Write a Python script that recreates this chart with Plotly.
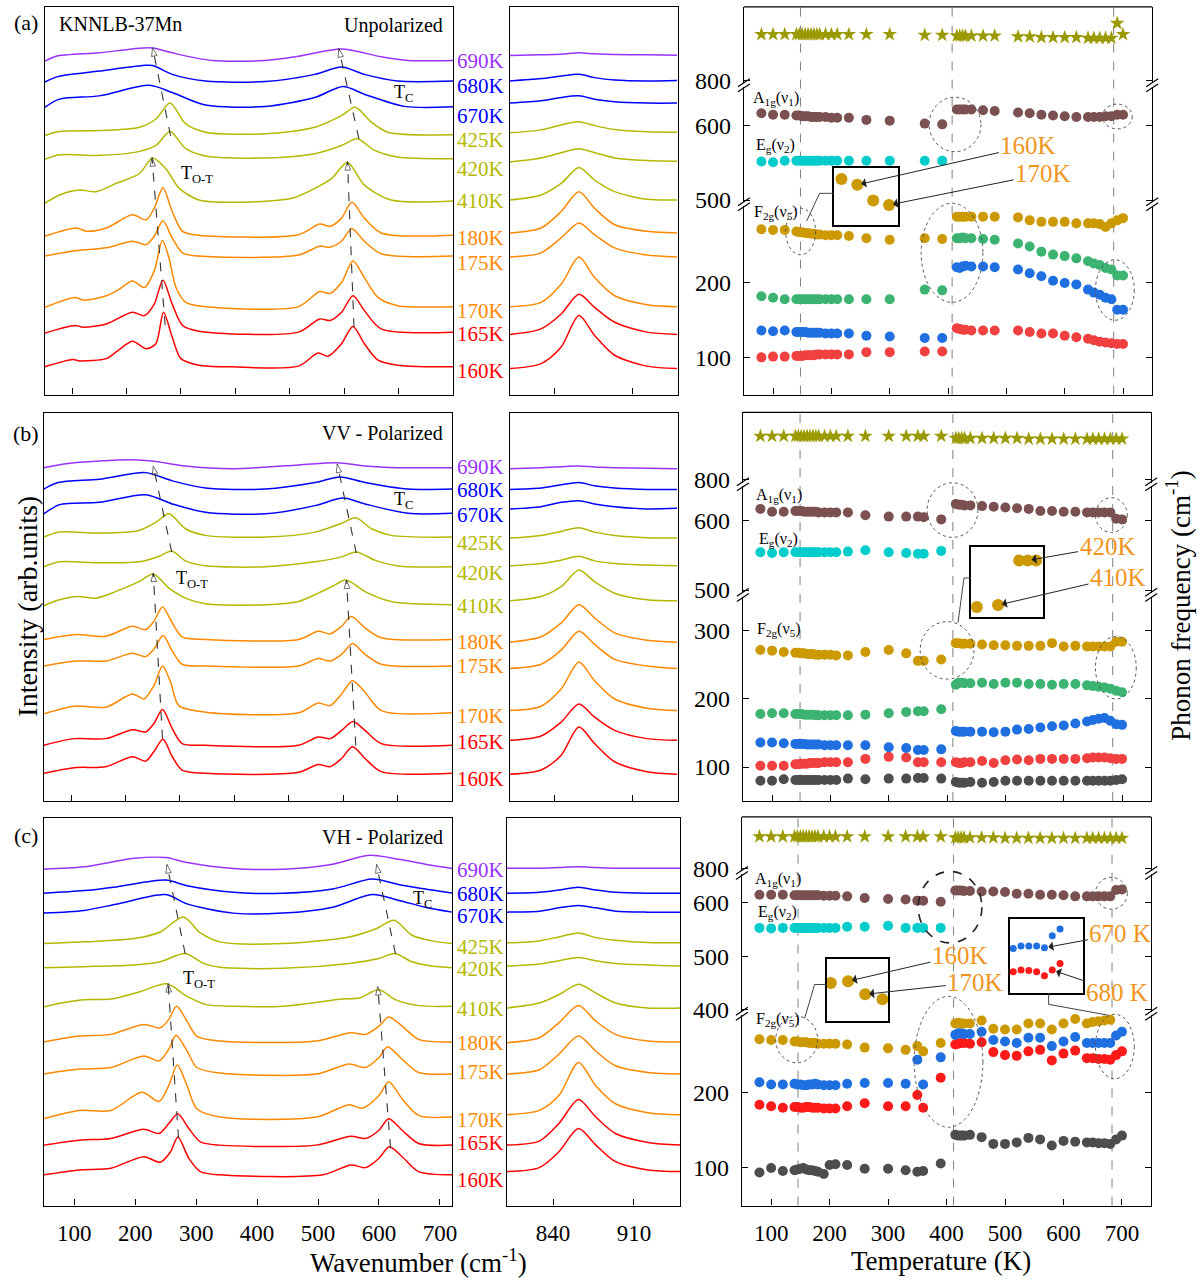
import plotly.graph_objects as go

W, H = 1203, 1286
FONT = "Liberation Serif, Times New Roman, Times, serif"

# ======================= DATA =======================
temp_labels = ["690K", "680K", "670K", "425K", "420K", "410K",
               "180K", "175K", "170K", "165K", "160K"]
temp_colors = ["#9933FF", "#0000FF", "#0000FF", "#B5B800", "#B5B800", "#B5B800",
               "#FF8800", "#FF8800", "#FF8800", "#FF0000", "#FF0000"]

# ---- row (a) unpolarized, 50-800 cm-1 (wavenumber, intensity a.u.) ----
a690_wn = [50, 71, 150, 211, 248, 284, 357, 455, 516, 595, 668, 717, 800]
a690_I = [336.3, 341.3, 344.7, 348.7, 349.7, 344.7, 337, 337, 341.3, 348.7, 340.7, 337, 337]
a680_wn = [50, 74, 150, 230, 248, 284, 345, 455, 546, 595, 637, 698, 800]
a680_I = [315.3, 320.7, 326.3, 332, 332, 323, 316.3, 315.7, 323, 330.3, 323, 316.3, 316.3]
a670_wn = [50, 77, 150, 242, 284, 345, 455, 546, 598, 637, 711, 800]
a670_I = [289.7, 298, 301.3, 312, 304.7, 292, 290.7, 299.7, 310.7, 303, 290.7, 290.3]
a425_wn = [50, 77, 150, 224, 254, 280, 309, 345, 455, 546, 595, 620, 650, 680, 800]
a425_I = [261.3, 265.3, 266.3, 269.7, 278, 294, 273, 264.7, 263, 269.7, 281.3, 289.7, 274.7, 264.7, 262]
a420_wn = [50, 77, 150, 224, 254, 280, 309, 345, 455, 546, 595, 624, 656, 698, 800]
a420_I = [237.3, 242, 241.3, 245.3, 251.3, 265.3, 248, 240.7, 238.7, 243, 251.3, 258, 246.3, 239.7, 238]
a410_wn = [50, 77, 114, 144, 181, 224, 248, 272, 297, 333, 394, 504, 552, 577, 606, 637, 686, 800]
a410_I = [193, 201.3, 206.3, 204.7, 213, 223, 238.7, 228, 208, 196.3, 194, 198, 209.7, 218, 234, 211.3, 196.3, 195.3]
a180_wn = [50, 108, 127, 163, 211, 236, 251, 267, 284, 303, 333, 516, 555, 574, 595, 614, 637, 668, 800]
a180_I = [159.7, 168, 164.7, 168, 181.3, 176.3, 188, 208.7, 184.7, 164.7, 160.7, 161.3, 172, 169.7, 178, 194, 178, 163, 160.7]
a175_wn = [50, 108, 163, 211, 236, 251, 267, 284, 303, 333, 516, 555, 574, 595, 614, 637, 668, 800]
a175_I = [139.7, 145.3, 148, 154.7, 151.3, 159.7, 175.3, 158, 143, 139.7, 140.7, 149.7, 148.7, 154.7, 167.3, 154.7, 142, 139.7]
a170_wn = [50, 105, 121, 163, 187, 211, 233, 251, 266, 278, 291, 309, 345, 516, 555, 574, 595, 616, 637, 662, 698, 800]
a170_I = [88, 98, 95.3, 99.7, 106.3, 114.7, 108, 124.7, 155.3, 138, 108, 93, 88.7, 88.7, 104, 102, 113, 134.7, 118, 98, 89.7, 88.7]
a165_wn = [50, 105, 121, 163, 211, 233, 251, 267, 284, 303, 333, 516, 555, 574, 595, 616, 637, 668, 800]
a165_I = [62, 69.7, 68, 71.3, 83, 79.7, 91.3, 115.3, 91.3, 69.7, 64, 63, 76.3, 74.7, 83, 99.7, 84.7, 66.3, 63]
a160_wn = [50, 102, 114, 163, 181, 211, 236, 254, 268, 284, 300, 333, 394, 516, 552, 570, 595, 616, 637, 662, 698, 800]
a160_I = [28, 35.3, 34, 36.3, 43, 53.7, 46.3, 51.3, 83, 58, 36.3, 29.7, 28, 28.7, 42, 38.7, 51.3, 68.7, 51.3, 34.7, 29.7, 28]

# ---- row (b) VV polarized ----
b690_wn = [50, 91, 152, 213, 249, 310, 396, 518, 588, 640, 701, 800]
b690_I = [336.3, 340.3, 343, 344.3, 343, 338, 335.3, 339, 341.3, 338, 336.3, 336.3]
b680_wn = [50, 76, 152, 237, 286, 347, 457, 548, 594, 640, 719, 800]
b680_I = [314.7, 321.3, 324.7, 331.3, 323, 315.7, 314.7, 321.3, 327, 321.3, 314.7, 314.7]
b670_wn = [50, 79, 152, 237, 286, 347, 457, 548, 600, 640, 719, 800]
b670_I = [289.7, 299, 301.3, 309, 299.7, 291.3, 289.7, 298, 305.7, 299.7, 290.3, 290.3]
b425_wn = [50, 79, 152, 225, 256, 280, 310, 347, 457, 548, 597, 623, 652, 688, 800]
b425_I = [266.3, 271.3, 270.3, 273, 281.3, 289.7, 274.7, 268, 266.3, 271.3, 280.3, 285.7, 274.7, 268, 266.3]
b420_wn = [50, 79, 152, 225, 262, 285, 310, 347, 457, 548, 597, 624, 658, 701, 800]
b420_I = [236.3, 241.3, 240.3, 241.3, 247, 252.3, 242.3, 237.3, 236.3, 241.3, 246.3, 251.3, 243, 237, 236.3]
b410_wn = [50, 79, 112, 146, 182, 225, 251, 280, 310, 347, 457, 518, 554, 579, 605, 640, 688, 800]
b410_I = [197, 203, 206.3, 204.7, 211.3, 221.3, 229, 214.7, 204.7, 199, 198, 201.3, 209.7, 216.3, 223, 211.3, 201.3, 198]
b180_wn = [50, 109, 164, 213, 237, 252, 268, 286, 304, 347, 518, 554, 576, 597, 615, 640, 670, 800]
b180_I = [163, 168, 166.3, 176.3, 173, 181.3, 195.7, 179.7, 165.7, 163, 163, 171.3, 168.7, 176.3, 186.3, 174.7, 164.7, 163]
b175_wn = [50, 109, 164, 213, 237, 252, 269, 286, 304, 347, 518, 554, 576, 597, 617, 640, 670, 800]
b175_I = [136.3, 141.3, 141.3, 149, 145.7, 153, 167, 151.3, 138, 136.3, 136.3, 143.7, 141.3, 148, 159, 148, 138, 136.3]
b170_wn = [50, 106, 164, 213, 234, 252, 268, 283, 298, 347, 518, 554, 576, 597, 617, 640, 670, 800]
b170_I = [88, 95.7, 94.7, 108, 103, 116.3, 136.3, 119.7, 96.3, 89.7, 89, 99, 96.3, 108, 121.3, 109.7, 91.3, 89]
b165_wn = [50, 106, 164, 213, 237, 252, 268, 286, 304, 347, 518, 554, 576, 597, 618, 640, 670, 800]
b165_I = [56.3, 63, 63, 72, 69.7, 78, 92.3, 73, 58, 56.3, 56.3, 64.7, 63, 71.3, 80.3, 71.3, 58, 56.3]
b160_wn = [50, 106, 164, 213, 237, 252, 269, 286, 304, 347, 518, 554, 576, 597, 617, 640, 670, 800]
b160_I = [28, 33.7, 34.7, 44.7, 40.3, 49.7, 62.3, 44.7, 31.3, 28, 29, 37, 34.7, 43, 54.7, 43, 29.7, 28]

# ---- row (c) VH polarized, 50-720 cm-1 ----
c690_wn = [50, 116, 198, 250, 285, 361, 442, 524, 584, 633, 676, 720]
c690_I = [339.3, 341.7, 350.3, 351, 346, 340, 339.3, 344.3, 353.3, 349.3, 344.3, 340]
c680_wn = [50, 116, 171, 250, 285, 361, 442, 524, 589, 633, 676, 720]
c680_I = [315, 317.7, 321.7, 328.3, 322.7, 316, 315, 319.3, 329.3, 323.7, 319.3, 315.3]
c670_wn = [50, 116, 171, 250, 285, 361, 442, 524, 589, 633, 676, 720]
c670_I = [295, 297.7, 304.3, 313.7, 304.3, 295, 295, 301, 313.7, 307.7, 301, 296]
c425_wn = [50, 116, 198, 241, 279, 307, 339, 442, 551, 595, 625, 654, 687, 720]
c425_I = [264.3, 266, 269.3, 276, 291, 275, 266, 264.3, 271, 279.3, 287.7, 272.7, 267, 264.3]
c420_wn = [50, 116, 198, 241, 282, 312, 339, 442, 551, 600, 626, 654, 687, 720]
c420_I = [240, 241, 242.7, 246, 254.3, 244.3, 240.3, 239.3, 244.3, 249.3, 254.3, 246, 241.7, 240]
c410_wn = [50, 78, 116, 160, 209, 252, 285, 317, 361, 442, 540, 567, 600, 627, 665, 720]
c410_I = [200.3, 204.3, 207.7, 208.3, 216, 223.7, 211, 202.7, 201, 201, 208.3, 209.3, 217.7, 207.7, 201.7, 201]
c180_wn = [50, 108, 160, 214, 241, 255, 268, 285, 301, 339, 497, 554, 578, 600, 616, 638, 665, 720]
c180_I = [165, 171, 172.7, 182.7, 179.3, 187.7, 201, 186, 171, 166, 166, 174.3, 172.7, 181, 190.3, 181, 167.7, 165]
c175_wn = [50, 108, 160, 214, 239, 255, 267, 285, 301, 339, 497, 551, 578, 600, 614, 638, 665, 720]
c175_I = [132.7, 137.7, 139.3, 151, 146, 157.7, 171.7, 156, 139.3, 133.7, 132.7, 142.7, 139.3, 149.3, 160.3, 147.7, 134.3, 132.7]
c170_wn = [50, 108, 160, 211, 239, 255, 269, 285, 301, 339, 497, 551, 573, 600, 616, 638, 665, 720]
c170_I = [87.7, 96, 96, 114.3, 105, 121, 141.7, 121, 97.7, 89.3, 89.3, 101.7, 98.3, 111, 125, 107.7, 91, 89.3]
c165_wn = [50, 108, 160, 214, 239, 255, 270, 288, 307, 339, 497, 554, 578, 600, 616, 638, 665, 720]
c165_I = [61, 66, 67.7, 77, 72.7, 82.7, 92.7, 77.7, 64.3, 61, 61, 70, 67.7, 76, 87.7, 76, 62.7, 61]
c160_wn = [50, 108, 160, 214, 241, 258, 270, 288, 307, 339, 508, 554, 578, 600, 617, 638, 665, 720]
c160_I = [31, 36, 37.7, 49.3, 43.7, 54.3, 69.3, 47.7, 34.3, 31, 31, 41, 38.3, 47.7, 59.3, 49.3, 34.3, 31]

# ---- high-frequency window (~860 cm-1 band) ----
mid_wn_ab = [800, 828, 846, 862, 876, 894, 923, 950]
mid_wn_c = [800, 828, 845, 862, 877, 894, 922, 950]
ma690 = [342, 342.7, 343.3, 344.7, 343.7, 343, 342.7, 342.3]
ma680 = [316.3, 318.7, 321.3, 323, 319.7, 317.3, 316.3, 316.7]
ma670 = [294, 296.3, 299.7, 301.3, 298, 295.3, 294, 294]
ma425 = [264, 267, 272, 275.3, 271.3, 267.3, 265, 264.7]
ma420 = [234.7, 238.7, 244, 248, 244, 238.7, 236, 235.3]
ma410 = [196.3, 201.3, 213, 229, 216.3, 204.7, 197, 196.3]
ma180 = [163, 168, 184.7, 204.7, 188, 171.3, 164.7, 163]
ma175 = [138.7, 143, 158, 173, 161.3, 148, 140.7, 138.7]
ma170 = [88.7, 93, 111.3, 138.7, 118, 99.7, 90.7, 88.7]
ma165 = [60.7, 66.3, 81.3, 101.3, 88, 73, 63, 60.7]
ma160 = [26.3, 31.3, 48, 79.7, 59.7, 39.7, 28.7, 26.3]
mb690 = [335.3, 336.3, 337.3, 338, 337, 336.3, 335.7, 335.3]
mb680 = [314.3, 315.7, 319, 321.3, 318, 315.7, 314.3, 314.3]
mb670 = [294.7, 297, 301.3, 303, 299.7, 297, 294.7, 295.3]
mb425 = [265.3, 268, 272, 275.7, 271.3, 268, 265.7, 265.3]
mb420 = [237.3, 239.7, 243, 247, 242.3, 239.7, 238, 237.3]
mb410 = [202, 206.3, 216.3, 233, 221.3, 209.7, 203, 202]
mb180 = [160.3, 165.7, 179.7, 198, 184.7, 169.7, 162.3, 160.3]
mb175 = [133.7, 138, 152.3, 171.3, 158, 143, 136.3, 133.7]
mb170 = [91.3, 95.7, 113, 140.3, 121.3, 103, 93.7, 91.3]
mb165 = [61.3, 65.7, 79.7, 98, 84.7, 71.3, 63, 61.3]
mb160 = [27, 31.3, 46.3, 74.7, 58, 39.7, 29.7, 27]
mc690 = [340.3, 340.3, 341, 341.7, 341, 340.3, 340.3, 340.3]
mc680 = [315, 316, 318.3, 321, 318.3, 316, 315, 315]
mc670 = [296, 297, 300.3, 302.7, 300.3, 297, 296, 296]
mc425 = [265, 267, 271, 275, 270.3, 267.7, 265.3, 265]
mc420 = [241.7, 243.7, 247, 250.3, 247, 244.3, 242.7, 241.7]
mc410 = [199.3, 204.3, 212.7, 223.3, 214.3, 204.3, 199.3, 199.3]
mc180 = [164.3, 169.3, 184.3, 201.7, 186, 172.7, 166, 165]
mc175 = [132.7, 137, 152.7, 171, 155.7, 141, 134.3, 132.7]
mc170 = [91.7, 96, 111, 144.3, 121, 102.7, 93.7, 91.7]
mc165 = [61, 65, 82.7, 107, 89.3, 72.7, 63.7, 61]
mc160 = [34.3, 38.3, 54.3, 77.7, 61, 44.3, 36, 34.3]

# ---- peak-tracking guides (wavenumber, intensity: start -> arrow tip) ----
guide_a_wn = [[271, 247], [618, 606], [281, 248], [627, 590]]
guide_a_I = [[70, 239], [68, 235], [261, 350], [258, 349]]
guide_b_wn = [[268, 251], [623, 606], [285, 251], [624, 589]]
guide_b_I = [[63, 230], [56, 223], [251, 338], [250, 340]]
guide_c_wn = [[271, 254], [619, 598], [282, 252], [627, 596]]
guide_c_I = [[68, 224], [58, 221], [254, 344], [254, 344]]

# ---- phonon frequencies vs temperature ----
Ta = [80, 100, 120, 140, 145, 150, 155, 160, 165, 170, 175, 180, 190, 200, 210, 230, 260, 300,
      360, 390, 415, 420, 425, 430, 440, 460, 480, 520, 540, 560, 580, 600, 620,
      640, 650, 660, 670, 680, 690, 700]
a_star = [862, 862, 862, 862, 862, 862, 862, 862, 862, 862, 862, 862, 862, 862, 862, 862, 862, 862,
          861, 861, 860, 860, 860, 860, 860, 860, 860, 859, 859, 858, 858, 858, 858,
          857, 857, 857, 857, 857, 877, 862]
a_A1g = [617, 615, 615, 614, 614, 613, 613, 613, 612, 612, 612, 612, 612, 611, 611, 611, 608, 607,
         603, 602, 622, 622, 622, 622, 622, 621, 620, 618, 617, 615, 614, 613, 612,
         612, 612, 612, 613, 613, 615, 615]
a_Eg = [552, 551, 553, 553, 553, 553, 553, 553, 553, 553, 553, 553, 553, 553, 553, 553, 553, 553,
        553, 553, None, None, None, None, None, None, None, None, None, None, None, None, None,
        None, None, None, None, None, None, None]
a_F2g = [272, 271, 271, 269, 268, 268, 267, 267, 266, 266, 265, 265, 264, 264, 264, 263, 260, 258,
         260, 259, 289, 289, 289, 289, 289, 289, 289, 288, 284, 282, 282, 282, 280,
         280, 280, 279, 275, 280, 284, 287]
a_green = [182, 180, 178, 178, 178, 178, 178, 178, 178, 178, 178, 178, 178, 178, 178, 178, 178, 178,
           191, 190, 260, 260, 261, 260, 260, 259, 258, 253, 249, 242, 238, 236, 233,
           229, 226, 224, 220, 218, 210, 210]
a_blue = [136, 135, 136, 134, 134, 134, 134, 133, 133, 133, 133, 133, 132, 132, 132, 132, 129, 128,
          126, 126, 221, 220, 222, 223, 222, 222, 221, 218, 213, 209, 203, 200, 198,
          191, 187, 184, 180, 178, 164, 164]
a_red = [100, 101, 101, 102, 102, 102, 103, 103, 103, 103, 104, 104, 104, 104, 104, 104, 107, 107,
         108, 108, 139, 138, 137, 137, 136, 136, 136, 136, 134, 132, 132, 129, 127,
         125, 123, 121, 120, 119, 118, 118]

Tb = [80, 100, 120, 140, 145, 150, 155, 160, 165, 170, 175, 180, 190, 200, 210, 230, 260, 300,
      330, 350, 360, 390, 415, 420, 425, 430, 440, 460, 480, 500, 520, 540, 560, 580, 600, 620,
      640, 650, 660, 670, 680, 690, 700]
b_star = [862, 862, 862, 862, 862, 862, 862, 862, 862, 862, 862, 862, 862, 862, 862, 862, 862, 862,
          862, 862, 862, 862, 859, 859, 859, 859, 859, 859, 859, 859, 859, 858, 858, 858, 858, 858,
          858, 858, 858, 858, 858, 858, 858]
b_A1g = [616, 612, 612, 613, 613, 613, 612, 612, 612, 612, 612, 611, 611, 611, 611, 611, 607, 605,
         605, 605, 604, 601, 623, 622, 622, 621, 621, 620, 619, 618, 617, 616, 613, 613, 612, 612,
         611, 611, 611, 611, 611, 602, 601]
b_Eg = [554, 553, 554, 554, 554, 554, 554, 554, 554, 554, 554, 554, 554, 554, 554, 555, 557, 554,
        553, 552, 552, 556, None, None, None, None, None, None, None, None, None, None, None, None,
        None, None, None, None, None, None, None, None, None]
b_F2g = [272, 271, 269, 268, 268, 267, 267, 266, 266, 266, 265, 265, 265, 265, 264, 264, 269, 272,
         267, 256, 256, 258, 282, 282, 281, 281, 281, 280, 279, 279, 278, 278, 278, 282, 277, 278,
         277, 277, 277, 277, 277, 284, 284]
b_green = [178, 179, 179, 178, 178, 178, 177, 177, 177, 177, 176, 176, 176, 176, 176, 176, 177, 179,
           181, 182, 182, 185, 221, 224, 224, 223, 223, 224, 222, 224, 224, 222, 222, 221, 222, 222,
           220, 219, 218, 217, 215, 212, 210]
b_blue = [136, 136, 135, 134, 134, 134, 134, 133, 133, 133, 133, 133, 132, 132, 132, 132, 132, 129,
          128, 125, 125, 126, 153, 152, 152, 152, 152, 152, 151, 152, 155, 156, 158, 160, 161, 164,
          167, 169, 171, 172, 168, 163, 162]
b_red = [102, 102, 102, 104, 104, 105, 105, 105, 106, 106, 106, 106, 107, 107, 107, 107, 112, 115,
         114, 107, 107, 107, 107, 106, 106, 107, 107, 109, 106, 110, 111, 110, 112, 112, 112, 112,
         113, 114, 114, 114, 113, 112, 112]
b_gray = [80, 80, 82, 81, 81, 81, 81, 81, 81, 81, 81, 81, 81, 81, 81, 83, 82, 83,
          83, 84, 84, 83, 78, 77, 77, 77, 78, 77, 78, 80, 80, 80, 80, 80, 80, 80,
          80, 80, 80, 80, 80, 81, 82]

Tc = [80, 100, 120, 140, 145, 150, 155, 160, 165, 170, 175, 180, 190, 200, 210, 230, 260, 300,
      330, 350, 360, 390, 415, 420, 425, 430, 440, 460, 480, 500, 520, 540, 560, 580, 600, 620,
      640, 650, 660, 670, 680, 690, 700]
c_star = [860, 860, 860, 860, 860, 860, 860, 860, 860, 860, 860, 860, 860, 860, 860, 860, 860, 860,
          860, 860, 860, 860, 858, 858, 858, 858, 858, 858, 858, 857, 857, 857, 857, 857, 857, 857,
          857, 857, 857, 857, 857, 857, 857]
c_A1g = [615, 615, 615, 614, 614, 614, 614, 614, 614, 614, 614, 614, 613, 613, 613, 612, 609, 607,
         606, 604, 604, 602, 623, 623, 623, 622, 622, 621, 621, 620, 617, 617, 615, 615, 614, 612,
         612, 612, 612, 612, 612, 624, 625]
c_Eg = [553, 552, 553, 553, 553, 553, 553, 553, 553, 553, 553, 553, 553, 553, 553, 555, 555, 557,
        553, 553, 553, 553, None, None, None, None, None, None, None, None, None, None, None, None,
        None, None, None, None, None, None, None, None, None]
c_F2g = [271, 270, 270, 268, 268, 267, 267, 267, 266, 266, 266, 265, 265, 265, 265, 264, 260, 259,
         257, 262, 255, 266, 292, 293, 292, 292, 292, 296, 285, 284, 284, 292, 292, 284, 292, 298,
         292, 294, 295, 296, 297, None, None]
c_blue = [214, 211, 211, 212, 211, 211, 210, 210, 211, 211, 212, 211, 210, 210, 210, 212, 213, 213,
          212, 244, 211, 247, 277, 279, 279, 278, 278, 281, 270, 268, 266, 273, 273, 262, 268, 274,
          266, 266, 266, 266, 266, 276, 281]
c_red = [184, 182, 180, 181, 181, 180, 180, 181, 181, 180, 180, 180, 179, 179, 179, 182, 186, 182,
         182, 197, 180, 220, 264, 265, 266, 266, 265, 267, 254, 250, 249, 255, 257, 243, 252, 256,
         246, 246, 245, 245, 244, 250, 255]
c_gray = [94, 100, 96, 97, 98, 99, 100, 98, 97, 97, 96, 95, 92, 104, 105, 104, 99, 99,
          97, 95, 96, 106, 144, 143, 143, 143, 144, 141, 132, 132, 134, 140, 138, 130, 136, 135,
          134, 134, 133, 133, 132, 138, 143]

# transition temperatures (dashed lines)
vlines_a = [147, 407, 684]
vlines_b = [148, 410, 684]
vlines_c = [146, 412, 683]

# zoomed insets
ins_a_T = [155, 160, 165, 170]
ins_a_F = [268.4, 267.6, 265.4, 264.8]
ins_b_T = [400, 410, 420, 424, 428]
ins_b_F = [259.2, 260, 279.3, 279.3, 279.3]
ins_c1_T = [150, 160, 170, 180]
ins_c1_F = [268.1, 268.4, 266.3, 265.5]
ins_c2_T = [630, 640, 650, 660, 670, 680, 690]
ins_c2_blue = [270.2, 271.9, 271.9, 271.9, 270.7, 278.8, 283.3]
ins_c2_red = [254.6, 255.7, 255.5, 254.6, 251.9, 255.7, 260.2]

wn_ticks_left = [100, 200, 300, 400, 500, 600, 700]
wn_ticks_mid = [840, 910]
T_ticks = [100, 200, 300, 400, 500, 600, 700]

# ======================= COLOURS =======================
C_STAR = "#9A9A00"
C_A1G = "#7A5050"
C_EG = "#00CCCC"
C_F2G = "#CC9900"
C_GREEN = "#3CB371"
C_BLUE = "#1F6FE0"
C_RED = "#F04040"
C_RED_C = "#FF1A1A"
C_GRAY = "#4D4D4D"
C_ORANGE_TXT = "#F0961E"

# ======================= HELPERS =======================
def xp(px):
    return px / W


def yp(py):
    return 1 - py / H


layout = dict(width=W, height=H, margin=dict(l=0, r=0, t=0, b=0, pad=0),
              paper_bgcolor="white", plot_bgcolor="rgba(0,0,0,0)", showlegend=False,
              font=dict(family=FONT, color="black"))
traces, shapes, annotations = [], [], []
cnt = {"x": 0, "y": 0}

BASE = dict(showgrid=False, zeroline=False, linecolor="black", linewidth=1.3,
            tickcolor="black", tickwidth=1.2, ticklen=6)


def tfont(size):
    return dict(family=FONT, size=size, color="black")


def new_axis(kind, **kw):
    cnt[kind] += 1
    n = cnt[kind]
    key = f"{kind}axis" if n == 1 else f"{kind}axis{n}"
    ref = kind if n == 1 else f"{kind}{n}"
    layout[key] = dict(BASE, **kw)
    return key, ref


def spectrum_axes(x0, x1, y0, y1, xrng, tv, labels):
    xk, xr = new_axis("x", domain=[xp(x0), xp(x1)], range=xrng, showline=True, mirror=True,
                      ticks="inside", tickvals=tv, showticklabels=labels, tickfont=tfont(23),
                      ticklabelstandoff=7)
    yk, yr = new_axis("y", domain=[yp(y1), yp(y0)], range=[0, 391], showline=True, mirror=True,
                      ticks="", showticklabels=False, anchor=xr)
    layout[xk]["anchor"] = yr
    return xr, yr


def line_shape(x0, y0, x1, y1, color="black", width=1.2, dash="solid"):
    shapes.append(dict(type="line", xref="paper", yref="paper", x0=xp(x0), y0=yp(y0),
                       x1=xp(x1), y1=yp(y1), line=dict(color=color, width=width, dash=dash)))


def phonon_axes(x0, x1, ytop, ybot, segs, labels, breaks):
    xk, xr = new_axis("x", domain=[xp(x0), xp(x1)], range=[50, 750], showline=True, mirror=False,
                      ticks="inside", tickvals=T_ticks, showticklabels=labels, tickfont=tfont(23),
                      ticklabelstandoff=7)
    yrefs = []
    for (yt, yb, rng, tv) in segs:
        yk, yr = new_axis("y", domain=[yp(yb), yp(yt)], range=rng, showline=True, mirror="ticks",
                          ticks="inside", tickvals=tv, tickfont=tfont(24), ticklabelstandoff=7,
                          anchor=xr)
        yrefs.append(yr)
    layout[xk]["anchor"] = yrefs[0]
    line_shape(x0, ytop, x1, ytop, width=1.3)
    for yb in breaks:
        for xx in (x0, x1):
            for dy in (-2.6, 2.6):
                line_shape(xx - 6, yb + dy + 4, xx + 6, yb + dy - 4, width=1.2)
    return xr, yrefs


def inset_axes(x0, x1, y0, y1, xrng, yrng):
    xk, xr = new_axis("x", domain=[xp(x0), xp(x1)], range=xrng, showline=True, mirror=True,
                      ticks="", showticklabels=False, linewidth=1.5)
    yk, yr = new_axis("y", domain=[yp(y1), yp(y0)], range=yrng, showline=True, mirror=True,
                      ticks="", showticklabels=False, linewidth=1.5, anchor=xr)
    layout[xk]["anchor"] = yr
    return xr, yr


def spectra(curves, xa, ya):
    for (wn, inten), col in zip(curves, temp_colors):
        traces.append(go.Scatter(x=wn, y=inten, xaxis=xa, yaxis=ya, mode="lines",
                                 line=dict(color=col, width=1.5, shape="spline", smoothing=0.8),
                                 hoverinfo="skip"))


def guides(gwn, gI, xa, ya):
    for wn, inten in zip(gwn, gI):
        traces.append(go.Scatter(x=wn, y=inten, xaxis=xa, yaxis=ya, mode="lines+markers",
                                 line=dict(color="#333333", width=1.1, dash="dash"),
                                 marker=dict(symbol="arrow-open", angleref="previous",
                                             size=[0, 9], color="#333333",
                                             line=dict(width=1, color="#333333")),
                                 hoverinfo="skip"))


def dots(x, y, xa, ya, color, size=10, symbol="circle"):
    traces.append(go.Scatter(x=x, y=y, xaxis=xa, yaxis=ya, mode="markers",
                             marker=dict(color=color, size=size, symbol=symbol, line=dict(width=0)),
                             cliponaxis=False, hoverinfo="skip"))


def text(x, y, s, size, color="black", xanchor="center", angle=0):
    annotations.append(dict(x=xp(x), y=yp(y), xref="paper", yref="paper", text=s, showarrow=False,
                            xanchor=xanchor, yanchor="middle", textangle=angle,
                            font=dict(family=FONT, size=size, color=color)))


def arrow_label(s, xa, ya, x, y, ax, ay):
    annotations.append(dict(x=x, y=y, xref=xa, yref=ya, text=s, showarrow=True, ax=ax, ay=ay,
                            arrowhead=1, arrowsize=1.6, arrowwidth=1, arrowcolor="#222222",
                            standoff=4, font=dict(family=FONT, size=25, color=C_ORANGE_TXT)))


def ellipse(x0, y0, x1, y1, color="#555555", width=1, dash="dot"):
    shapes.append(dict(type="circle", xref="paper", yref="paper", x0=xp(x0), y0=yp(y1),
                       x1=xp(x1), y1=yp(y0), line=dict(color=color, width=width, dash=dash)))


def polyline(pts):
    for (p, q) in zip(pts[:-1], pts[1:]):
        line_shape(p[0], p[1], q[0], q[1], color="#444444", width=1)


def vlines(vals, xa, ytop, ybot):
    for v in vals:
        shapes.append(dict(type="line", xref=xa, yref="paper", x0=v, x1=v, y0=yp(ybot), y1=yp(ytop),
                           layer="below", line=dict(color="#808080", width=1, dash="dash")))


def phonon_modes(T, xa, ybot, ymid, ytop, star, a1g, eg, f2g, blue, red,
                 green=None, gray=None, red_color=C_RED):
    dots(T, star, xa, ytop, C_STAR, size=11, symbol="star")
    dots(T, a1g, xa, ymid, C_A1G)
    dots(T, eg, xa, ymid, C_EG)
    if gray is not None:
        dots(T, gray, xa, ybot, C_GRAY)
    dots(T, red, xa, ybot, red_color)
    dots(T, blue, xa, ybot, C_BLUE)
    if green is not None:
        dots(T, green, xa, ybot, C_GREEN)
    dots(T, f2g, xa, ybot, C_F2G)


# ======================= ROW (a) =======================
curves_a = [(a690_wn, a690_I), (a680_wn, a680_I), (a670_wn, a670_I), (a425_wn, a425_I),
            (a420_wn, a420_I), (a410_wn, a410_I), (a180_wn, a180_I), (a175_wn, a175_I),
            (a170_wn, a170_I), (a165_wn, a165_I), (a160_wn, a160_I)]
mid_a = [ma690, ma680, ma670, ma425, ma420, ma410, ma180, ma175, ma170, ma165, ma160]
xa, ya = spectrum_axes(45, 455, 7, 398, [50, 800], wn_ticks_left, False)
spectra(curves_a, xa, ya)
guides(guide_a_wn, guide_a_I, xa, ya)
xm, ym = spectrum_axes(512, 681, 7, 398, [800, 951], wn_ticks_mid, False)
spectra([(mid_wn_ab, m) for m in mid_a], xm, ym)
xr_a, (yb_a, ym_a, yt_a) = phonon_axes(
    747, 1157, 7, 398,
    [(208, 398, [50, 303], [100, 200]), (88, 204, [497, 652], [500, 600]), (7, 84, [796, 899], [800])],
    False, [206, 86])
vlines(vlines_a, xr_a, 7, 398)
phonon_modes(Ta, xr_a, yb_a, ym_a, yt_a, a_star, a_A1g, a_Eg, a_F2g, a_blue, a_red, green=a_green)
ixa, iya = inset_axes(837, 902, 169, 227, [152.5, 172.9], [262, 270])
dots(ins_a_T, ins_a_F, ixa, iya, C_F2G, size=12)
arrow_label("160K", ixa, iya, ins_a_T[1], ins_a_F[1], 171, -39)
arrow_label("170K", ixa, iya, ins_a_T[3], ins_a_F[3], 154, -31)
label_y_a = [62, 87, 117, 141, 170, 203, 240, 265, 314, 337, 374]

# ======================= ROW (b) =======================
curves_b = [(b690_wn, b690_I), (b680_wn, b680_I), (b670_wn, b670_I), (b425_wn, b425_I),
            (b420_wn, b420_I), (b410_wn, b410_I), (b180_wn, b180_I), (b175_wn, b175_I),
            (b170_wn, b170_I), (b165_wn, b165_I), (b160_wn, b160_I)]
mid_b = [mb690, mb680, mb670, mb425, mb420, mb410, mb180, mb175, mb170, mb165, mb160]
xb, yb = spectrum_axes(44, 454, 417, 808, [50, 800], wn_ticks_left, False)
spectra(curves_b, xb, yb)
guides(guide_b_wn, guide_b_I, xb, yb)
xmb, ymb = spectrum_axes(512, 681, 417, 808, [800, 951], wn_ticks_mid, False)
spectra([(mid_wn_ab, m) for m in mid_b], xmb, ymb)
xr_b, (yb_b, ym_b, yt_b) = phonon_axes(
    746, 1156, 416, 808,
    [(602, 808, [50, 350], [100, 200, 300]), (490, 598, [496, 649], [500, 600]), (416, 487, [795, 896], [800])],
    False, [600, 488.5])
vlines(vlines_b, xr_b, 416, 808)
phonon_modes(Tb, xr_b, yb_b, ym_b, yt_b, b_star, b_A1g, b_Eg, b_F2g, b_blue, b_red,
             green=b_green, gray=b_gray)
ixb, iyb = inset_axes(975, 1047, 552, 622, [397.2, 431.1], [255, 285])
dots(ins_b_T, ins_b_F, ixb, iyb, C_F2G, size=12)
arrow_label("420K", ixb, iyb, ins_b_T[3], ins_b_F[3], 80, -14)
arrow_label("410K", ixb, iyb, ins_b_T[1], ins_b_F[1], 120, -28)
label_y_b = [471, 494, 519, 548, 578, 611, 648, 672, 722, 748, 786]

# ======================= ROW (c) =======================
curves_c = [(c690_wn, c690_I), (c680_wn, c680_I), (c670_wn, c670_I), (c425_wn, c425_I),
            (c420_wn, c420_I), (c410_wn, c410_I), (c180_wn, c180_I), (c175_wn, c175_I),
            (c170_wn, c170_I), (c165_wn, c165_I), (c160_wn, c160_I)]
mid_c = [mc690, mc680, mc670, mc425, mc420, mc410, mc180, mc175, mc170, mc165, mc160]
xc, yc = spectrum_axes(44, 454, 825, 1216, [50, 720], wn_ticks_left, True)
spectra(curves_c, xc, yc)
guides(guide_c_wn, guide_c_I, xc, yc)
xmc, ymc = spectrum_axes(509, 683, 825, 1216, [800, 950], wn_ticks_mid, True)
spectra([(mid_wn_c, m) for m in mid_c], xmc, ymc)
xr_c, (yb_c, ym_c, yt_c) = phonon_axes(
    745, 1156, 824, 1216,
    [(1024, 1216, [50, 303], [100, 200]), (882, 1021, [395, 653], [400, 500, 600]), (824, 879, [794, 897], [800])],
    True, [1022.5, 880.5])
vlines(vlines_c, xr_c, 824, 1216)
phonon_modes(Tc, xr_c, yb_c, ym_c, yt_c, c_star, c_A1g, c_Eg, c_F2g, c_blue, c_red,
             gray=c_gray, red_color=C_RED_C)
ixc1, iyc1 = inset_axes(830, 892, 967, 1030, [147.5, 183.4], [262, 272])
dots(ins_c1_T, ins_c1_F, ixc1, iyc1, C_F2G, size=12)
arrow_label("160K", ixc1, iyc1, ins_c1_T[1], ins_c1_F[1], 112, -26)
arrow_label("170K", ixc1, iyc1, ins_c1_T[2], ins_c1_F[2], 110, -12)
ixc2, iyc2 = inset_axes(1014, 1088, 927, 1002, [625.6, 720], [240, 290])
dots(ins_c2_T, ins_c2_blue, ixc2, iyc2, C_BLUE, size=7)
dots(ins_c2_T, ins_c2_red, ixc2, iyc2, C_RED_C, size=7)
arrow_label("670 K", ixc2, iyc2, ins_c2_T[4], ins_c2_blue[4], 76, -14)
arrow_label("680 K", ixc2, iyc2, ins_c2_T[5], ins_c2_red[5], 65, 22)
label_y_c = [878, 902, 924, 955, 977, 1018, 1052, 1081, 1130, 1153, 1190]

# ======================= TEXT =======================
for ys in (label_y_a, label_y_b, label_y_c):
    for lab, col, y in zip(temp_labels, temp_colors, ys):
        text(457, y, lab, 21, color=col, xanchor="left")

text(26, 23, "(a)", 22)
text(26, 437, "(b)", 22)
text(26, 843, "(c)", 22)
text(57, 24, "KNNLB-37Mn", 20, xanchor="left")
text(447, 26, "Unpolarized", 20, xanchor="right")
text(447, 437, "VV - Polarized", 20, xanchor="right")
text(447, 844, "VH - Polarized", 20, xanchor="right")
for (xx, yy) in [(405, 94), (405, 505), (424, 907)]:
    text(xx, yy, "T<sub>C</sub>", 18)
for (xx, yy) in [(198, 176), (193, 584), (200, 988)]:
    text(xx, yy, "T<sub>O-T</sub>", 18)
for (xx, y1, y2, y3) in [(779, 99, 147, 214), (782, 500, 544, 635), (781, 887, 920, 1028)]:
    text(xx, y1, "A<sub>1g</sub>(ν<sub>1</sub>)", 16)
    text(xx, y2, "E<sub>g</sub>(ν<sub>2</sub>)", 16)
    text(xx, y3, "F<sub>2g</sub>(ν<sub>5</sub>)", 16)

text(420, 1272, "Wavenumber (cm<sup>-1</sup>)", 27)
text(945, 1272, "Temperature (K)", 27)
text(28, 611, "Intensity (arb.units)", 28, angle=-90)
text(1183, 611, "Phonon frequency (cm<sup>-1</sup>)", 27, angle=-90)

# ======================= DECORATIONS =======================
# row a
ellipse(933, 98, 985, 153)
ellipse(1107, 105, 1137, 130)
ellipse(789, 210, 819, 257)
ellipse(925, 205, 987, 305)
ellipse(1100, 262, 1139, 323)
polyline([(837, 195), (823, 195), (810, 223)])
# row b
ellipse(931, 487, 982, 542)
ellipse(1100, 502, 1132, 537)
ellipse(924, 627, 978, 685)
ellipse(1100, 642, 1141, 705)
polyline([(975, 583), (968, 583), (962, 628)])
# row c
ellipse(922, 879, 986, 951, color="#222222", width=1.6, dash="dash")
ellipse(1100, 885, 1132, 917)
ellipse(779, 1025, 821, 1072)
ellipse(918, 1005, 987, 1137)
ellipse(1100, 1023, 1139, 1088)
polyline([(830, 993), (818, 993), (808, 1027)])
polyline([(1053, 1002), (1053, 1013), (1113, 1024)])

layout["shapes"] = shapes
layout["annotations"] = annotations
fig = go.Figure(data=traces, layout=layout)
fig.write_html("out.html", config={"displayModeBar": False},
               post_script="document.body.style.margin='0px';document.body.style.padding='0px';")
